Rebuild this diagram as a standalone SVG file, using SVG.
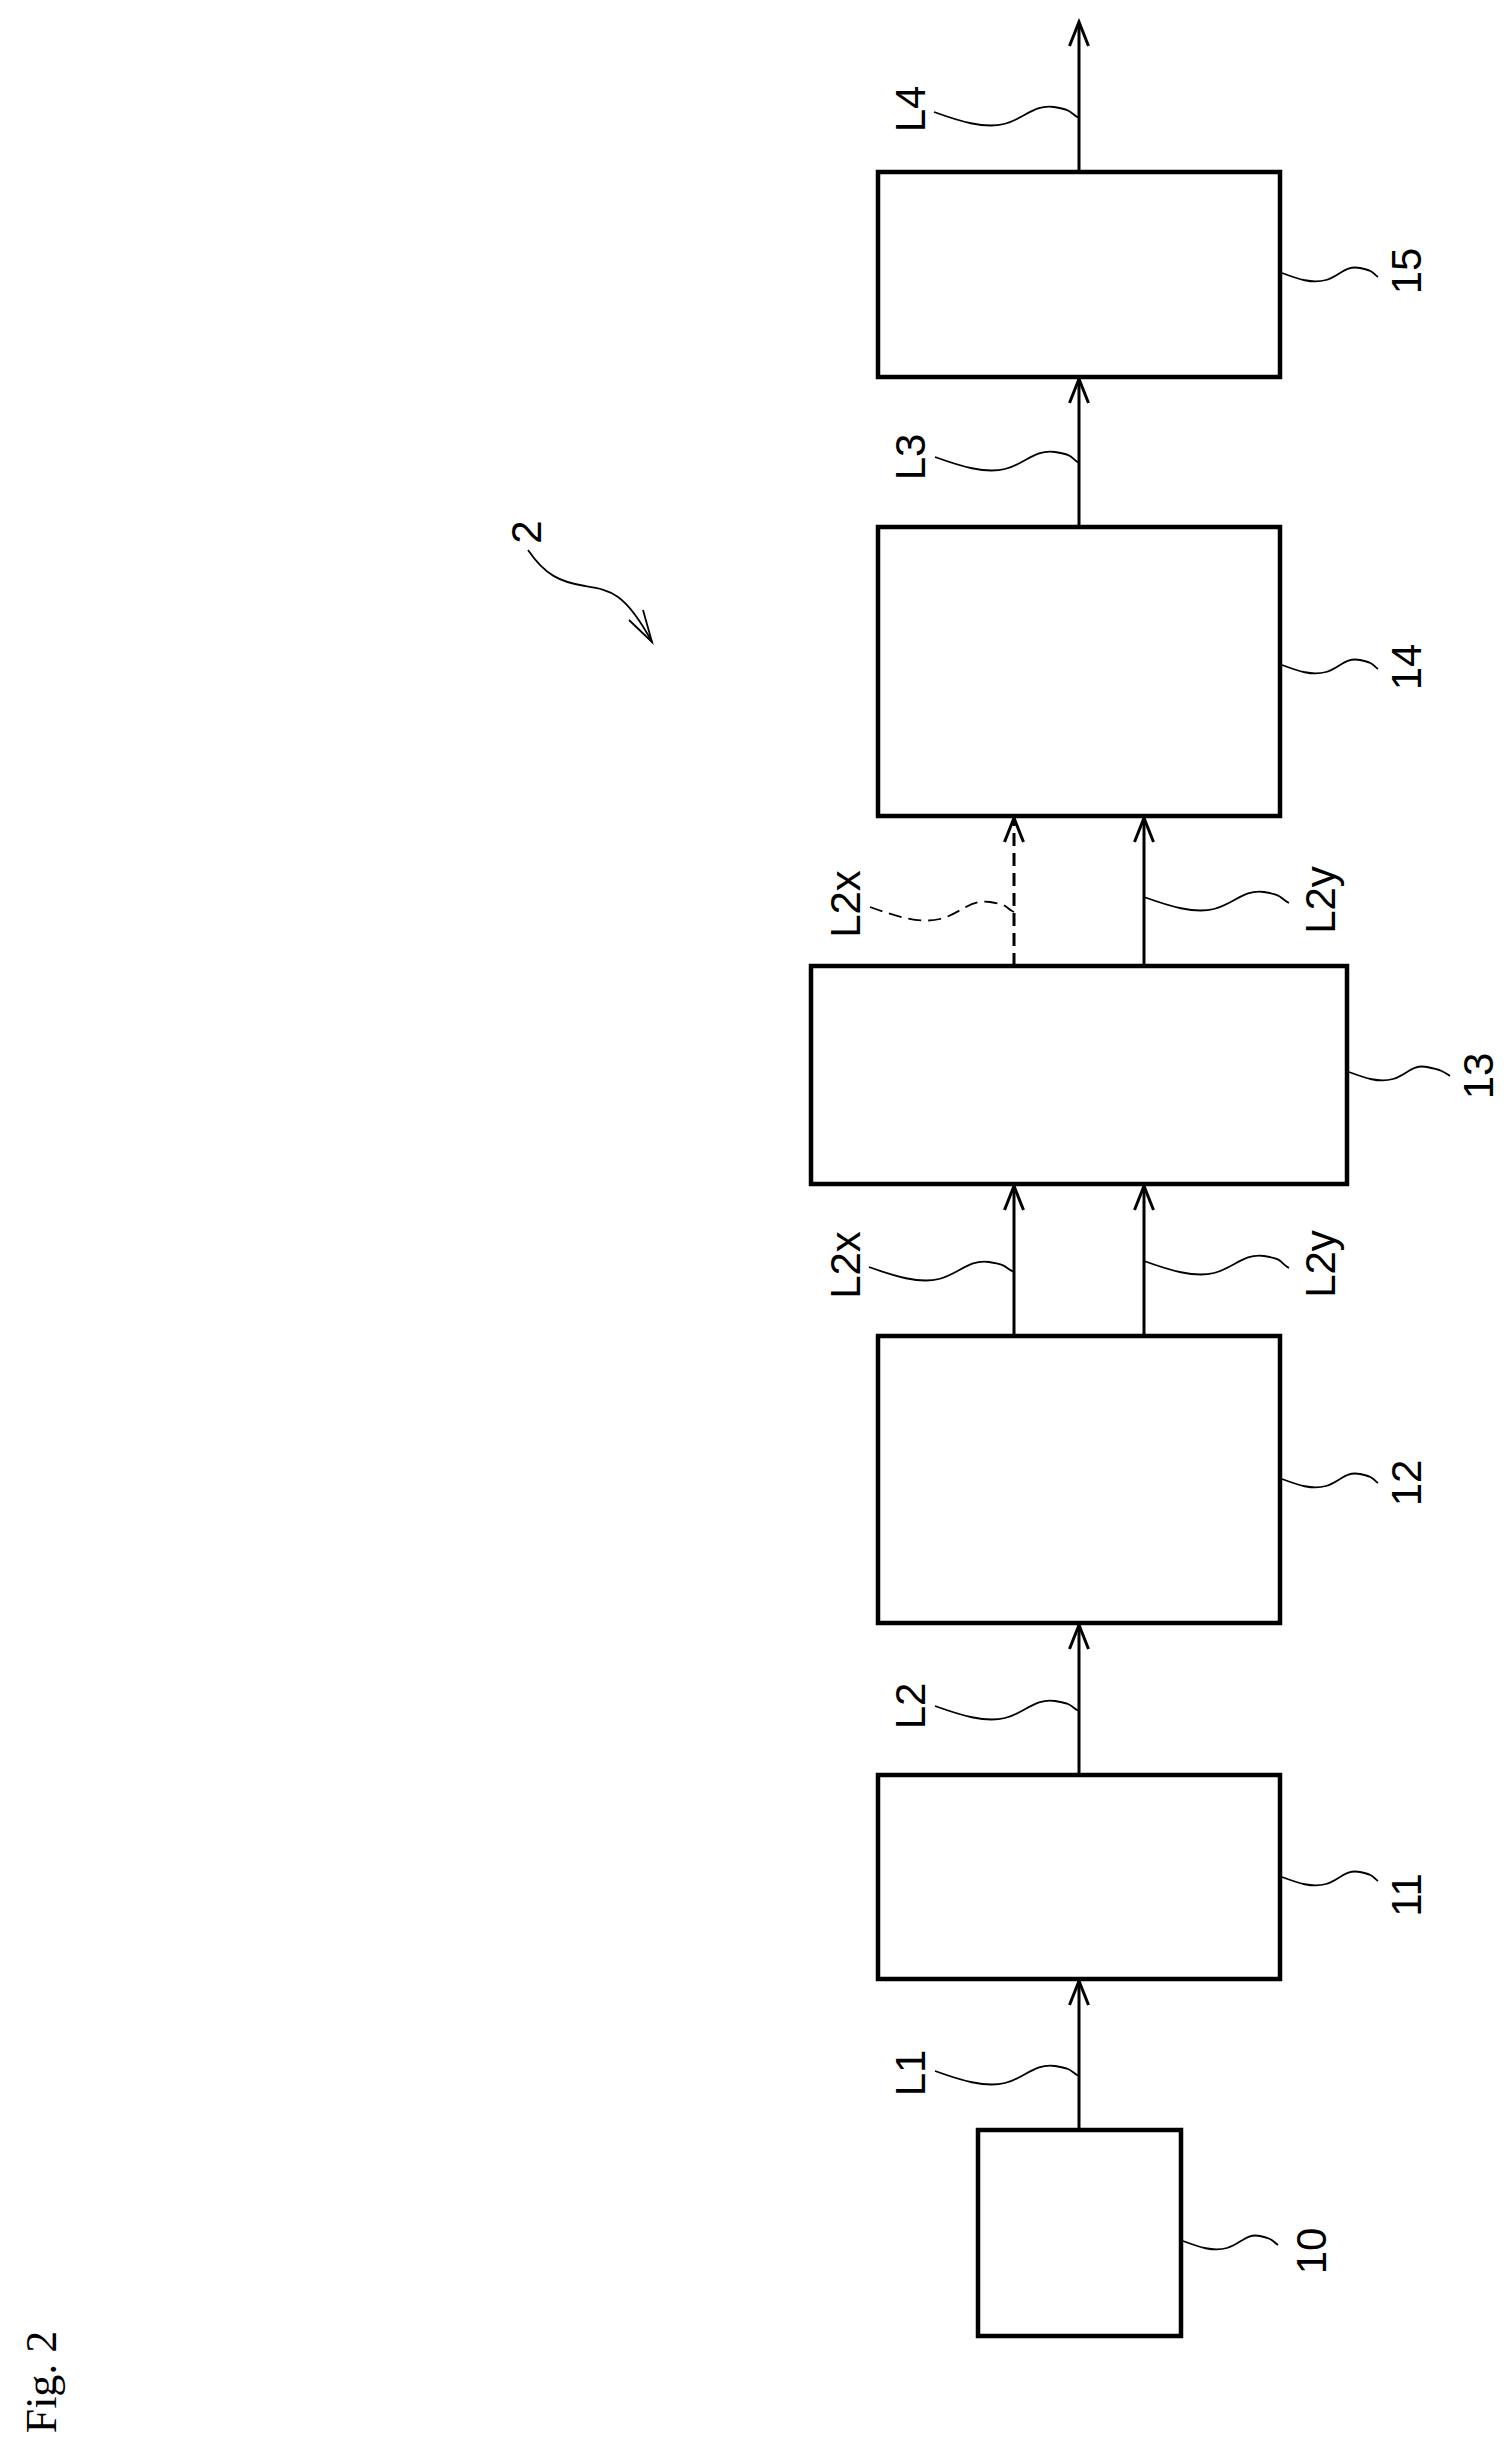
<svg xmlns="http://www.w3.org/2000/svg" width="1511" height="2457" viewBox="0 0 1511 2457">
<style>
.box{fill:#fff;stroke:#000;stroke-width:4.5}
.ln{fill:none;stroke:#000;stroke-width:3}
.dash{stroke-dasharray:13 7}
.ld{fill:none;stroke:#000;stroke-width:1.8}
.lbl{font-family:"Liberation Sans",Arial,sans-serif;font-size:42px;text-anchor:middle;dominant-baseline:central}
.fig{font-family:"Liberation Serif","Times New Roman",serif;font-size:44px;text-anchor:middle;dominant-baseline:central}
</style>
<defs>
<marker id="ah" markerUnits="userSpaceOnUse" markerWidth="30" markerHeight="24" refX="26" refY="12" orient="auto">
<path d="M2,2.5 L26,12 L2,21.5" fill="none" stroke="#000" stroke-width="3" stroke-dasharray="none"/>
</marker>
</defs>
<rect width="1511" height="2457" fill="#fff"/>
<g id="connectors">
<line class="ln" x1="1079" y1="2130" x2="1079" y2="1981" marker-end="url(#ah)"/>
<line class="ln" x1="1079" y1="1775" x2="1079" y2="1625" marker-end="url(#ah)"/>
<line class="ln" x1="1014" y1="1336" x2="1014" y2="1186" marker-end="url(#ah)"/>
<line class="ln" x1="1144" y1="1336" x2="1144" y2="1186" marker-end="url(#ah)"/>
<line class="ln dash" x1="1014" y1="966" x2="1014" y2="818" marker-end="url(#ah)"/>
<line class="ln" x1="1144" y1="966" x2="1144" y2="818" marker-end="url(#ah)"/>
<line class="ln" x1="1079" y1="527" x2="1079" y2="379" marker-end="url(#ah)"/>
<line class="ln" x1="1079" y1="172" x2="1079" y2="22" marker-end="url(#ah)"/>
</g>
<g id="leaders">
<path class="ld" d="M935,2071 C960,2080 985,2088 1005,2083 S1035,2063 1055,2066 S1070,2072 1079,2076"/>
<path class="ld" d="M935,1706 C960,1715 985,1723 1005,1718 S1035,1698 1055,1701 S1070,1707 1079,1711"/>
<path class="ld" d="M869,1267 C894,1276 919,1284 939,1279 S969,1259 989,1262 S1004,1268 1014,1272"/>
<path class="ld" d="M1144,1261 C1169,1270 1194,1278 1214,1273 S1244,1253 1264,1256 S1279,1262 1289,1268"/>
<path class="ld dash" d="M870,907 C895,916 920,924 940,919 S970,899 990,902 S1005,908 1014,912" stroke-dasharray="10 6"/>
<path class="ld" d="M1144,897 C1169,906 1194,914 1214,909 S1244,889 1264,892 S1279,898 1289,903"/>
<path class="ld" d="M935,457 C960,466 985,474 1005,469 S1035,449 1055,452 S1070,458 1079,463"/>
<path class="ld" d="M934,112 C959,121 984,129 1004,124 S1034,104 1054,107 S1069,113 1079,118"/>
<path class="ld" d="M1282,273 C1298,279 1312,284 1326,280 S1345,265 1360,268 S1372,273 1378,277"/>
<path class="ld" d="M1282,665 C1298,671 1312,676 1326,672 S1345,657 1360,660 S1372,665 1378,669"/>
<path class="ld" d="M1349,1072 C1365,1078 1379,1083 1393,1079 S1412,1064 1427,1067 S1444,1072 1450,1076"/>
<path class="ld" d="M1282,1479 C1298,1485 1312,1490 1326,1486 S1345,1471 1360,1474 S1372,1479 1378,1483"/>
<path class="ld" d="M1282,1877 C1298,1883 1312,1888 1326,1884 S1345,1869 1360,1872 S1372,1877 1378,1881"/>
<path class="ld" d="M1183,2241 C1199,2247 1213,2252 1227,2248 S1246,2233 1260,2236 S1272,2241 1278,2245"/>
<path class="ld" d="M528,550 C545,575 560,582 585,586 S625,592 652,642"/>
<path class="ld" d="M629,620 L652,642 L643,610"/>
</g>
<g id="n10"><rect class="box" x="978" y="2130" width="203" height="206"/><text class="lbl" x="1311" y="2251" transform="rotate(-90 1311 2251)">10</text></g>
<g id="n11"><rect class="box" x="878" y="1775" width="402" height="204"/><text class="lbl" x="1406" y="1895" transform="rotate(-90 1406 1895)">11</text></g>
<g id="n12"><rect class="box" x="878" y="1336" width="402" height="287"/><text class="lbl" x="1406" y="1483" transform="rotate(-90 1406 1483)">12</text></g>
<g id="n13"><rect class="box" x="811" y="966" width="536" height="218"/><text class="lbl" x="1478" y="1076" transform="rotate(-90 1478 1076)">13</text></g>
<g id="n14"><rect class="box" x="878" y="527" width="402" height="289"/><text class="lbl" x="1406" y="667" transform="rotate(-90 1406 667)">14</text></g>
<g id="n15"><rect class="box" x="878" y="172" width="402" height="205"/><text class="lbl" x="1406" y="271" transform="rotate(-90 1406 271)">15</text></g>
<g id="labels">
<text class="lbl" x="910" y="2073" transform="rotate(-90 910 2073)">L1</text>
<text class="lbl" x="910" y="1706" transform="rotate(-90 910 1706)">L2</text>
<text class="lbl" x="845" y="1265" transform="rotate(-90 845 1265)">L2x</text>
<text class="lbl" x="1320" y="1264" transform="rotate(-90 1320 1264)">L2y</text>
<text class="lbl" x="845" y="904" transform="rotate(-90 845 904)">L2x</text>
<text class="lbl" x="1320" y="900" transform="rotate(-90 1320 900)">L2y</text>
<text class="lbl" x="910" y="457" transform="rotate(-90 910 457)">L3</text>
<text class="lbl" x="910" y="109" transform="rotate(-90 910 109)">L4</text>
<text class="lbl" x="526" y="532" transform="rotate(-90 526 532)">2</text>
<text class="fig" x="41" y="2382" transform="rotate(-90 41 2382)">Fig. 2</text>
</g>
</svg>
